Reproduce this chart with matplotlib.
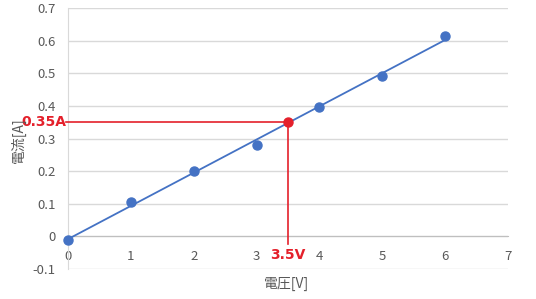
import matplotlib
matplotlib.use("Agg")
import matplotlib.pyplot as plt
import numpy as np

voltage = [0, 1, 2, 3, 4, 5, 6]
current = [-0.012, 0.105, 0.200, 0.281, 0.398, 0.493, 0.613]
read_v = 3.5
read_a = 0.35
x_ticks = [0, 1, 2, 3, 4, 5, 6, 7]
y_ticks = [-0.1, 0, 0.1, 0.2, 0.3, 0.4, 0.5, 0.6, 0.7]
y_labels = ["-0.1", "0", "0.1", "0.2", "0.3", "0.4", "0.5", "0.6", "0.7"]

plt.rcParams['font.family'] = ['Noto Sans CJK JP', 'DejaVu Sans']

blue = '#4472C4'
red = '#E4202B'
gray = '#595959'

fig = plt.figure(figsize=(5.36, 2.99), dpi=100)
ax = fig.add_axes([68/536, 1-269/299, (508-68)/536, (269-8)/299])

ax.set_xlim(0, 7)
ax.set_ylim(-0.1, 0.7)
ax.set_yticks(y_ticks)
ax.set_yticklabels(y_labels)
ax.set_xticks(x_ticks)
ax.grid(axis='y', color='#D9D9D9', linewidth=1)
ax.set_axisbelow(True)
for s in ['top', 'right']:
    ax.spines[s].set_visible(False)
ax.spines['left'].set_color('#D9D9D9')
ax.spines['bottom'].set_position(('data', 0))
ax.spines['bottom'].set_color('#BFBFBF')
ax.tick_params(axis='both', length=0, colors=gray, labelsize=9.5)
ax.tick_params(axis='x', pad=9.5)
ax.tick_params(axis='y', pad=9)

# trend line
coef = np.polyfit(voltage, current, 1)
xs = np.array([voltage[0], voltage[-1]])
ax.plot(xs, np.polyval(coef, xs), color=blue, linewidth=1.3, zorder=3)
ax.plot(voltage, current, 'o', color=blue, markersize=6.5, zorder=4, clip_on=False)

# read-off lines
ax.plot([-0.03, read_v], [read_a, read_a], color=red, linewidth=1.2, zorder=5, clip_on=False)
ax.plot([read_v, read_v], [read_a, -0.022], color=red, linewidth=1.2, zorder=5, clip_on=False)
ax.plot([read_v], [read_a], 'o', color=red, markersize=6.5, zorder=6)

ax.annotate(f"{read_a}A", xy=(0, read_a), xytext=(-1.5, 0), textcoords='offset points',
            ha='right', va='center', color=red, fontsize=10, fontweight='bold',
            family=['DejaVu Sans'], annotation_clip=False)
ax.annotate(f"{read_v}V", xy=(read_v, 0), xytext=(0, -13.5), textcoords='offset points',
            ha='center', va='center', color=red, fontsize=10, fontweight='bold',
            family=['DejaVu Sans'], annotation_clip=False)

fig.text(287/536, 1-284/299, "電圧[V]", ha='center', va='center', color=gray, fontsize=10)
fig.text(18/536, 1-140/299, "電流[A]", ha='center', va='center', color=gray, fontsize=10, rotation=90)

fig.savefig("out.png", dpi=100)
